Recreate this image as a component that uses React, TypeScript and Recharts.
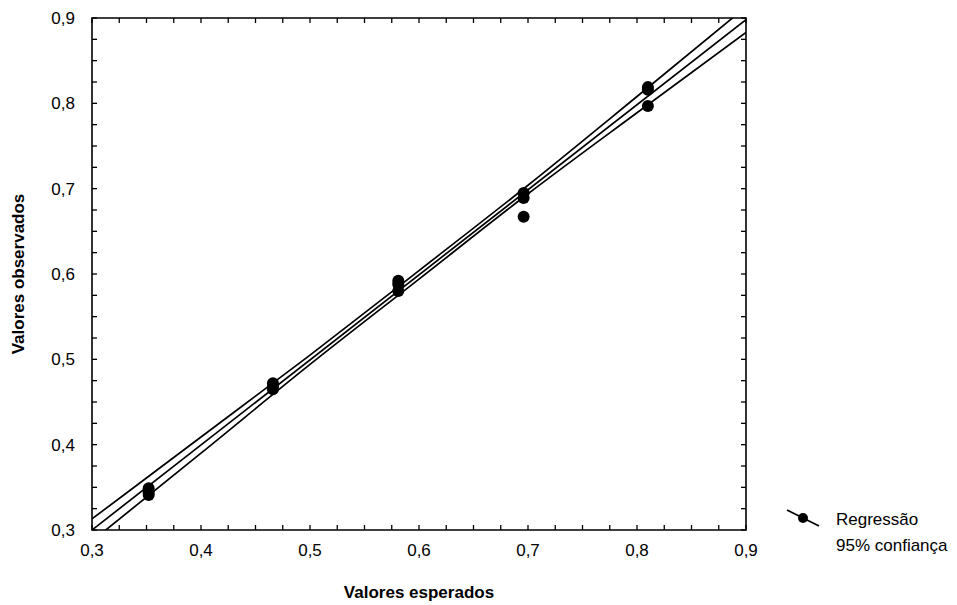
import { ComposedChart, XAxis, YAxis, Scatter, Line, ReferenceArea, Label } from "recharts"

const FONT = "Arial, 'Liberation Sans', sans-serif"

// eixo
const majorTicks = [0.3, 0.4, 0.5, 0.6, 0.7, 0.8, 0.9]
const majorLabels = ["0,3", "0,4", "0,5", "0,6", "0,7", "0,8", "0,9"]

// pontos observados
const expected = [0.352, 0.466, 0.581, 0.696, 0.81]
const observedA = [0.349, 0.472, 0.592, 0.695, 0.819]
const observedB = [0.344, 0.468, 0.588, 0.689, 0.816]
const observedC = [0.341, 0.465, 0.58, 0.667, 0.797]

// reta de regressao
const regX = [0.3, 0.9]
const regY = [0.3, 0.898]

// bandas de 95% confianca
const bandX = [0.3, 0.4, 0.5, 0.6, 0.7, 0.8, 0.9]
const bandUpper = [0.313, 0.409, 0.505, 0.604, 0.704, 0.808, 0.913]
const bandLower = [0.287, 0.39, 0.494, 0.594, 0.694, 0.789, 0.883]

const points = expected.flatMap((x, i) => [
  { x, y: observedA[i] },
  { x, y: observedB[i] },
  { x, y: observedC[i] },
])
const regLine = regX.map((x, i) => ({ x, y: regY[i] }))
const upperLine = bandX.map((x, i) => ({ x, y: bandUpper[i] }))
const lowerLine = bandX.map((x, i) => ({ x, y: bandLower[i] }))

// marcas menores a cada 0,025
const allTicks: number[] = []
majorTicks.forEach((t, i) => {
  allTicks.push(t)
  if (i < majorTicks.length - 1) {
    for (let k = 1; k < 4; k++) allTicks.push(Math.round((t + k * 0.025) * 1000) / 1000)
  }
})

const W = 957
const H = 605
const LEFT = 92
const TOP = 18
const RIGHT_M = 211
const XAXIS_H = 75
const PLOT_R = W - RIGHT_M
const PLOT_B = H - XAXIS_H
const TICK = 5

const labelOf = (v: number) => {
  const i = majorTicks.findIndex((t) => Math.abs(t - v) < 1e-6)
  return i >= 0 ? majorLabels[i] : null
}

const XTick = (props: any) => {
  const { x, payload } = props
  const lbl = labelOf(payload.value)
  return (
    <g>
      <line x1={x} x2={x} y1={PLOT_B} y2={PLOT_B - TICK} stroke="#000" strokeWidth={1.3} />
      <line x1={x} x2={x} y1={TOP} y2={TOP + TICK} stroke="#000" strokeWidth={1.3} />
      {lbl && (
        <text x={x} y={PLOT_B + 26} textAnchor="middle" fontSize={17} fontFamily={FONT} fill="#000">
          {lbl}
        </text>
      )}
    </g>
  )
}

const YTick = (props: any) => {
  const { y, payload } = props
  const lbl = labelOf(payload.value)
  return (
    <g>
      <line x1={LEFT} x2={LEFT + TICK} y1={y} y2={y} stroke="#000" strokeWidth={1.3} />
      <line x1={PLOT_R} x2={PLOT_R - TICK} y1={y} y2={y} stroke="#000" strokeWidth={1.3} />
      {lbl && (
        <text x={LEFT - 17} y={y + 6} textAnchor="end" fontSize={17} fontFamily={FONT} fill="#000">
          {lbl}
        </text>
      )}
    </g>
  )
}

const App = () => {
  return (
    <div style={{ position: "absolute", left: 0, top: 0, width: W, height: H, background: "#fff" }}>
      <ComposedChart width={W} height={H} margin={{ top: TOP, right: RIGHT_M, left: 0, bottom: 0 }}>
        <XAxis
          dataKey="x"
          type="number"
          domain={[0.3, 0.9]}
          ticks={allTicks}
          interval={0}
          allowDataOverflow
          height={XAXIS_H}
          tickLine={false}
          axisLine={false}
          tick={<XTick />}>
          <Label
            content={(p: any) => (
              <text
                x={p.viewBox.x + p.viewBox.width / 2}
                y={H - 7}
                textAnchor="middle"
                fontSize={17}
                fontWeight="bold"
                fontFamily={FONT}
                fill="#000">
                Valores esperados
              </text>
            )}
          />
        </XAxis>
        <YAxis
          dataKey="y"
          type="number"
          domain={[0.3, 0.9]}
          ticks={allTicks}
          interval={0}
          allowDataOverflow
          width={LEFT}
          tickLine={false}
          axisLine={false}
          tick={<YTick />}>
          <Label
            content={(p: any) => {
              const cy = p.viewBox.y + p.viewBox.height / 2
              return (
                <text
                  x={24}
                  y={cy}
                  transform={`rotate(-90, 24, ${cy})`}
                  textAnchor="middle"
                  fontSize={17}
                  fontWeight="bold"
                  fontFamily={FONT}
                  fill="#000">
                  Valores observados
                </text>
              )
            }}
          />
        </YAxis>
        <ReferenceArea x1={0.3} x2={0.9} y1={0.3} y2={0.9} fill="none" stroke="#000" strokeWidth={1.6} fillOpacity={0} />
        <Line data={upperLine} dataKey="y" type="monotone" stroke="#000" strokeWidth={1.7} dot={false} isAnimationActive={false} />
        <Line data={regLine} dataKey="y" type="linear" stroke="#000" strokeWidth={1.7} dot={false} isAnimationActive={false} />
        <Line data={lowerLine} dataKey="y" type="monotone" stroke="#000" strokeWidth={1.7} dot={false} isAnimationActive={false} />
        <Scatter
          data={points}
          fill="#000"
          isAnimationActive={false}
          shape={(p: any) => <circle cx={p.cx} cy={p.cy} r={6} fill="#000" />}
        />
      </ComposedChart>
      <svg width={180} height={62} style={{ position: "absolute", left: 780, top: 500 }}>
        <line x1={7} y1={10} x2={39} y2={26} stroke="#000" strokeWidth={1.7} />
        <circle cx={23} cy={18} r={5} fill="#000" />
        <text x={56} y={25} fontSize={17} fontFamily={FONT} fill="#000">
          Regressão
        </text>
        <text x={56} y={51} fontSize={17} fontFamily={FONT} fill="#000">
          95% confiança
        </text>
      </svg>
    </div>
  )
}

export default App
